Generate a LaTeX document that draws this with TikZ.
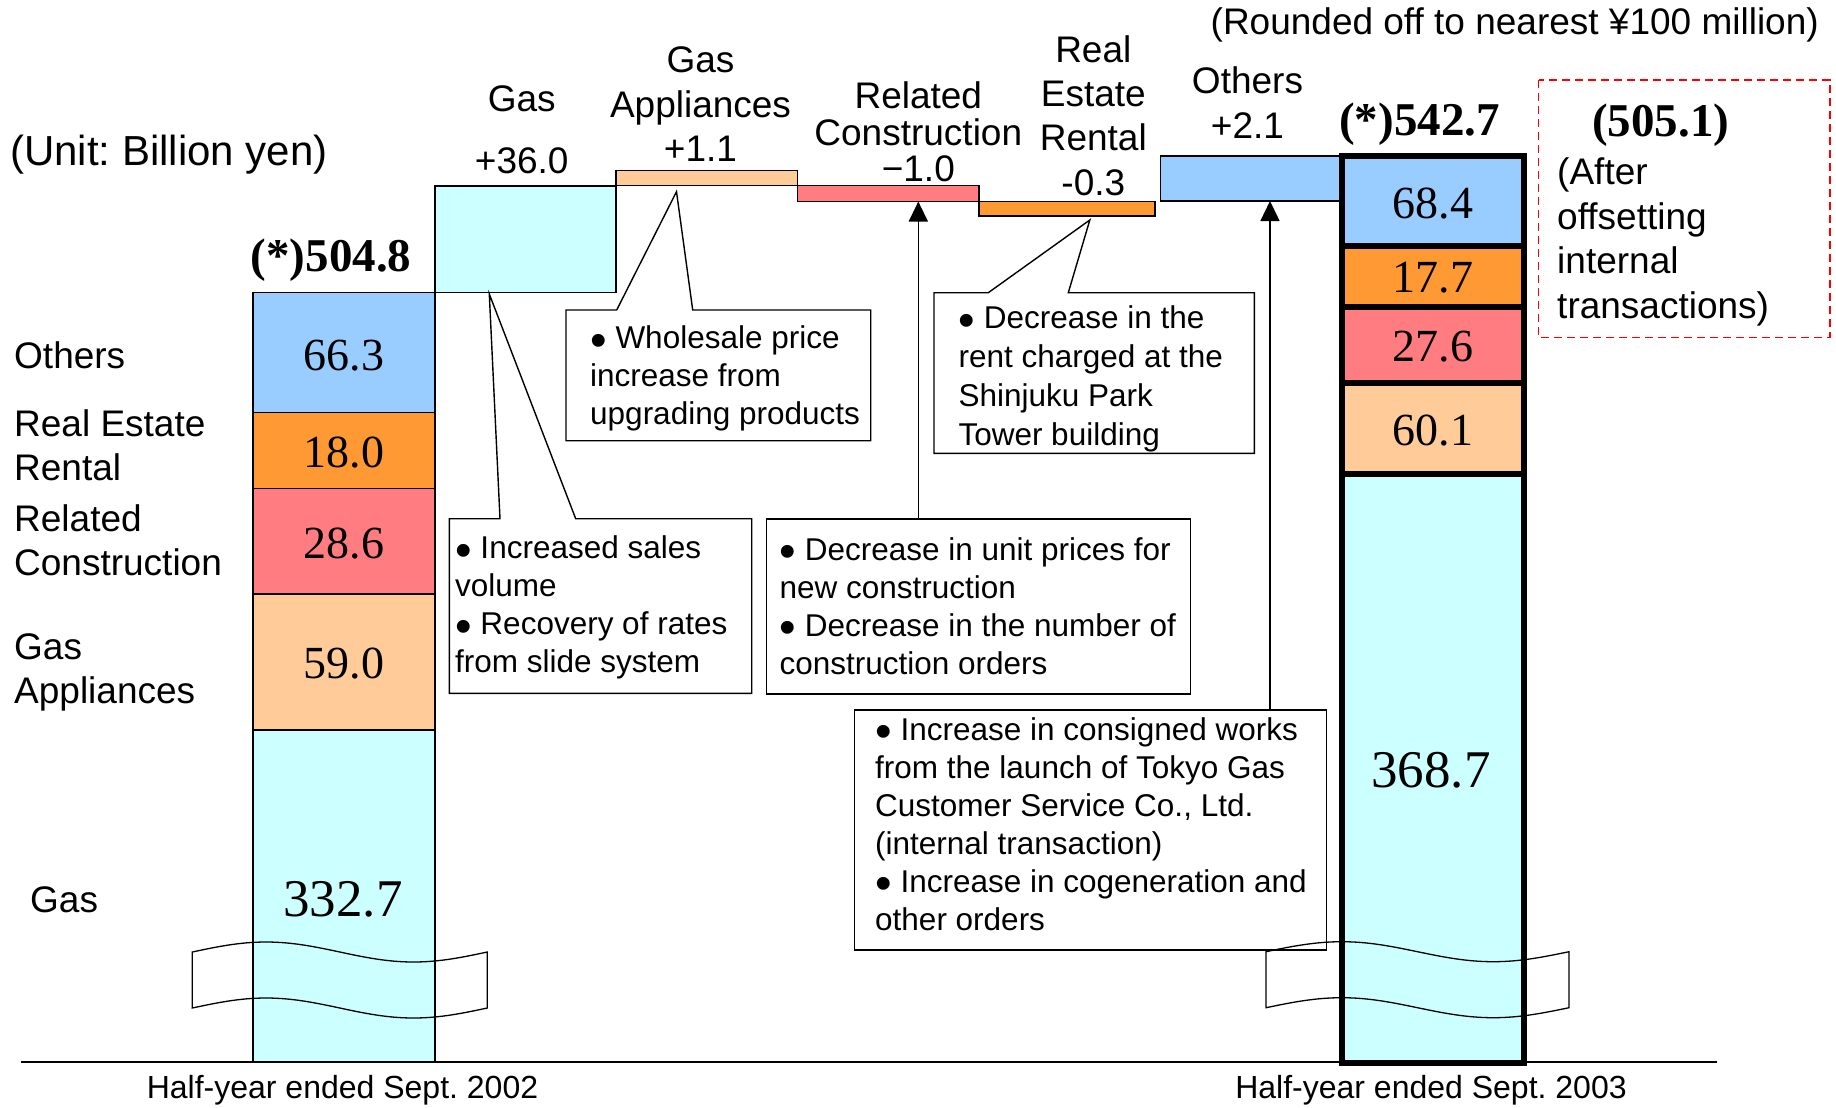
\documentclass[tikz,border=0pt]{standalone}
\usepackage{fontspec}
\usepackage{graphicx}
\setmainfont{Liberation Sans}
\newfontfamily\numfont{Liberation Serif}
\frenchspacing
\usetikzlibrary{arrows.meta,positioning,calc}
\definecolor{cgas}{HTML}{CCFFFF}
\definecolor{capp}{HTML}{FFCC99}
\definecolor{crel}{HTML}{FF7C80}
\definecolor{creal}{HTML}{FF9933}
\definecolor{coth}{HTML}{99CCFF}
\newcommand{\bul}{\raisebox{-0.24em}{\scalebox{1.5}{•}}}
\tikzset{
  bar/.style      = {draw, line width=1.3pt},
  barthick/.style = {draw, line width=6pt},
  num/.style      = {inner sep=0pt, font=\numfont\fontsize{46}{50}\selectfont},
  numbig/.style   = {inner sep=0pt, font=\numfont\fontsize{53}{58}\selectfont},
  tot/.style      = {inner sep=0pt, anchor=base,
                     font=\numfont\bfseries\fontsize{47}{50}\selectfont},
  lbl/.style      = {inner sep=0pt, font=\fontsize{37}{44.3}\selectfont},
  toplbl/.style   = {lbl, align=center, anchor=north},
  sidelbl/.style  = {lbl, align=left, anchor=north west},
  yr/.style       = {inner sep=0pt, anchor=base, font=\fontsize{32}{38}\selectfont},
  noteshape/.style= {anchor=north west, inner sep=0pt, outer sep=0pt},
  notebox/.style  = {noteshape, draw, line width=1.4pt},
  notetxt/.style  = {inner sep=0pt, align=left, font=\fontsize{31.5}{38}\selectfont},
  callline/.style = {line width=1.4pt, line join=miter},
  arr/.style      = {line width=1.4pt, -{Triangle[width=19pt,length=20pt]}},
  brk/.style      = {line width=1.3pt},
  offs/.style     = {draw=red, line width=1.5pt, dash pattern=on 8pt off 5pt},
}

\begin{document}
\begin{tikzpicture}[x=1pt, y=-1pt]
  \useasboundingbox (0,0) rectangle (1836,1108);
  % base line
  \draw[line width=1.5pt] (21,1062) -- (1717,1062);

  % 2002 bar
  \filldraw[bar, fill=coth]  (253,292.3) rectangle (435,412.7);
  \filldraw[bar, fill=creal] (253,412.7) rectangle (435,488.3);
  \filldraw[bar, fill=crel]  (253,488.3) rectangle (435,594);
  \filldraw[bar, fill=capp]  (253,594)   rectangle (435,730);
  \filldraw[bar, fill=cgas]  (253,730)   rectangle (435,1062);
  \node[num] (l66) at (344,355.5) {66.3};
  \node[num] (l18) at (344,452.5) {18.0};
  \node[num] (l28) at (344,543.3) {28.6};
  \node[num] (l59) at (344,664)   {59.0};
  \node[numbig] (l332) at (343,899) {332.7};

  % steps
  \filldraw[bar, fill=cgas]  (435,186)    rectangle (616,292.3);
  \filldraw[bar, fill=capp]  (616,170.7)  rectangle (797.5,185.7);
  \filldraw[bar, fill=crel]  (797.5,185.7) rectangle (979,201.5);
  \filldraw[bar, fill=creal] (979,201.5)  rectangle (1155,216);
  \filldraw[bar, fill=coth]  (1160.5,156) rectangle (1342,201);

  % 2003 bar
  \fill[coth]  (1342,156)    rectangle (1523.7,246.3);
  \fill[creal] (1342,246.3)  rectangle (1523.7,307);
  \fill[crel]  (1342,307)    rectangle (1523.7,382.5);
  \fill[capp]  (1342,382.5)  rectangle (1523.7,473.8);
  \fill[cgas]  (1342,473.8)  rectangle (1523.7,1062.5);
  \draw[barthick] (1342,246.3) -- (1523.7,246.3) (1342,307) -- (1523.7,307)
                  (1342,382.5) -- (1523.7,382.5) (1342,473.8) -- (1523.7,473.8);
  \draw[barthick] (1342,156) rectangle (1523.7,1062.5);
  \node[num] (r68) at (1432.8,203.3) {68.4};
  \node[num] (r17) at (1432.8,277.8) {17.7};
  \node[num] (r27) at (1432.8,346.7) {27.6};
  \node[num] (r60) at (1432.8,430.8) {60.1};
  \node[numbig] (r368) at (1431,770.5) {368.7};

  % labels
  \node[lbl, anchor=base east] (round) at (1819,35) {(Rounded off to nearest ¥100 million)};
  \node[lbl, anchor=base west, font=\fontsize{42}{46}\selectfont] (unit) at (10,165)
    {(Unit: Billion yen)};
  \node[toplbl] (tgas) at (521.7,85.2) {Gas\\[18pt]+36.0};
  \node[toplbl] (tapp) at (700.5,46.8) {Gas\\Appliances\\+1.1};
  \node[toplbl, font=\fontsize{37}{36.2}\selectfont] (trel) at (918.3,81.8)
    {Related\\Construction\\−1.0};
  \node[toplbl] (treal) at (1093.3,35.2) {Real\\Estate\\Rental\\-0.3};
  \node[toplbl] (toth) at (1247.5,66.8) {Others\\+2.1};
  \node[lbl, anchor=base west] (lothers) at (14,368.3) {Others};
  \node[sidelbl] (lreal) at (14,409.2) {Real Estate\\Rental};
  \node[sidelbl] (lrel) at (14,504.2) {Related\\Construction};
  \node[sidelbl] (lapp) at (14,633.5) {Gas\\Appliances};
  \node[lbl, anchor=base west] (lgas) at (30,912) {Gas};
  \node[tot] (tot02) at (331,271.7) {(*)504.8};
  \node[tot] (tot03) at (1419.5,135) {(*)542.7};
  \node[tot] (net03) at (1660.7,136.7) {(505.1)};
  \node[sidelbl, font=\fontsize{37}{44.5}\selectfont] (after) at (1557,157.5)
    {(After\\offsetting\\internal\\transactions)};
  \draw[offs] (1538.5,80) rectangle (1830,337.3);
  \node[yr] (y02) at (342.5,1098) {Half-year ended Sept. 2002};
  \node[yr] (y03) at (1431,1098) {Half-year ended Sept. 2003};

  % notes
  \node[noteshape, minimum width=302.4pt, minimum height=174.6pt] (gasnote) at (449.3,518.7) {};
  \node[notetxt, below right=16.9pt and 5.7pt of gasnote.north west] (gastext)
    {\bul{} Increased sales\\volume\\\bul{} Recovery of rates\\from slide system};
  \coordinate (gastip) at (489.3,294);
  \draw[callline] (gasnote.north west) -- ($(gasnote.north west)+(50.7,0)$) -- (gastip)
    -- ($(gasnote.north west)+(126.4,0)$) -- (gasnote.north east) -- (gasnote.south east)
    -- (gasnote.south west) -- cycle;

  \node[noteshape, minimum width=304.7pt, minimum height=130.7pt] (appnote) at (566,310) {};
  \node[notetxt, below right=15.6pt and 24pt of appnote.north west] (apptext)
    {\bul{} Wholesale price\\increase from\\upgrading products};
  \coordinate (apptip) at (676.5,191.7);
  \draw[callline] (appnote.north west) -- ($(appnote.north west)+(50.7,0)$) -- (apptip)
    -- ($(appnote.north west)+(126.7,0)$) -- (appnote.north east) -- (appnote.south east)
    -- (appnote.south west) -- cycle;

  \node[noteshape, minimum width=320.3pt, minimum height=160.6pt] (realnote) at (934,292.7) {};
  \node[notetxt, font=\fontsize{31.5}{38.9}\selectfont,
        below right=12.9pt and 24.3pt of realnote.north west] (realtext)
    {\bul{} Decrease in the\\rent charged at the\\Shinjuku Park\\Tower building};
  \coordinate (realtip) at (1089.8,220);
  \draw[callline] (realnote.north west) -- ($(realnote.north west)+(54.3,0)$) -- (realtip)
    -- ($(realnote.north west)+(134.3,0)$) -- (realnote.north east) -- (realnote.south east)
    -- (realnote.south west) -- cycle;

  \node[notebox, minimum width=424pt, minimum height=175pt] (relnote) at (766.7,519) {};
  \node[notetxt, below right=18.3pt and 12.6pt of relnote.north west] (reltext)
    {\bul{} Decrease in unit prices for\\new construction\\\bul{} Decrease in the number of\\construction orders};
  \coordinate (reltip) at (918.3,201.5);
  \draw[arr] (reltip |- relnote.north) -- (reltip);

  \node[notebox, minimum width=472.4pt, minimum height=240pt] (othnote) at (854.3,710) {};
  \node[notetxt, below right=7.3pt and 20.7pt of othnote.north west] (othtext)
    {\bul{} Increase in consigned works\\from the launch of Tokyo Gas\\Customer Service Co., Ltd.\\(internal transaction)\\\bul{} Increase in cogeneration and\\other orders};
  \coordinate (othtip) at (1270,201);
  \draw[arr] (othtip |- othnote.north) -- (othtip);

  % breaks
  \draw[brk] (192.3,952) sin (266,942) cos (339.8,952) sin (413.5,962) cos (487.3,952)
    -- (487.3,1008) sin (413.5,1018) cos (339.8,1008) sin (266,998) cos (192.3,1008) -- cycle;
  \draw[brk] (1266,951.7) sin (1341.8,941.7) cos (1417.5,951.7) sin (1493.3,961.7) cos (1569,951.7)
    -- (1569,1007.7) sin (1493.3,1017.7) cos (1417.5,1007.7) sin (1341.8,997.7) cos (1266,1007.7) -- cycle;
\end{tikzpicture}
\end{document}
